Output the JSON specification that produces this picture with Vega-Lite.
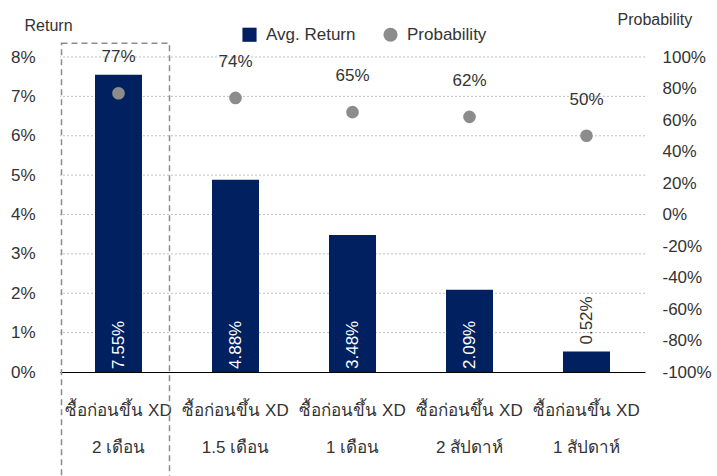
{
  "$schema": "https://vega.github.io/schema/vega-lite/v6.json",
  "width": 585,
  "height": 315,
  "autosize": {"type": "none"},
  "padding": {"left": 60, "top": 57, "right": 72, "bottom": 104},
  "background": "white",
  "config": {
    "font": "Liberation Sans",
    "view": {"stroke": null},
    "axis": {"labelFont": "Liberation Sans", "titleFont": "Liberation Sans", "labelColor": "#333333", "titleColor": "#333333", "labelFontSize": 17, "titleFontSize": 16, "titleFontWeight": "normal", "labelOverlap": false},
    "legend": {"labelFont": "Liberation Sans", "labelFontSize": 17, "labelColor": "#333333"}
  },
  "datasets": {
    "main": [
      {"cat": "ซื้อก่อนขึ้น XD|2 เดือน", "ret": 7.55, "prob": 77},
      {"cat": "ซื้อก่อนขึ้น XD|1.5 เดือน", "ret": 4.88, "prob": 74},
      {"cat": "ซื้อก่อนขึ้น XD|1 เดือน", "ret": 3.48, "prob": 65},
      {"cat": "ซื้อก่อนขึ้น XD|2 สัปดาห์", "ret": 2.09, "prob": 62},
      {"cat": "ซื้อก่อนขึ้น XD|1 สัปดาห์", "ret": 0.52, "prob": 50}
    ],
    "gridvals": [{"g": 1}, {"g": 2}, {"g": 3}, {"g": 4}, {"g": 5}, {"g": 6}, {"g": 7}, {"g": 8}]
  },
  "layer": [
    {
      "layer": [
        {
          "data": {"name": "gridvals"},
          "mark": {"type": "rule", "stroke": "#c0c0c0", "strokeDash": [2, 2], "strokeWidth": 1},
          "encoding": {
            "y": {"field": "g", "type": "quantitative", "scale": {"domain": [0, 8]},
              "axis": {
                "title": "Return", "titleAngle": 0, "titleAlign": "left", "titleBaseline": "middle", "titleX": -36, "titleY": -32,
                "values": [0, 1, 2, 3, 4, 5, 6, 7, 8], "tickCount": 9, "labelExpr": "datum.value + '%'",
                "ticks": false, "domain": false, "labelPadding": 25, "labelOverlap": false, "grid": false
              }}
          }
        },
        {
          "data": {"name": "main"},
          "mark": {"type": "bar", "width": 47},
          "encoding": {
            "x": {"field": "cat", "type": "nominal", "sort": null, "scale": {"paddingInner": 0.6, "paddingOuter": 0.3},
              "axis": {"title": null, "labelAngle": 0, "ticks": false, "domainColor": "#000000", "domainWidth": 1, "labelExpr": "split(datum.label, '|')", "labelLineHeight": 37, "labelPadding": 38, "labelBaseline": "middle", "labelFontSize": 17}},
            "y": {
              "field": "ret", "type": "quantitative", "scale": {"domain": [0, 8]},
              "axis": {
                "title": "Return", "titleAngle": 0, "titleAlign": "left", "titleBaseline": "middle", "titleX": -36, "titleY": -32,
                "values": [0, 1, 2, 3, 4, 5, 6, 7, 8], "tickCount": 9, "labelExpr": "datum.value + '%'",
                "ticks": false, "domain": false, "labelPadding": 25, "labelOverlap": false, "grid": false
              }
            },
            "color": {
              "datum": "Avg. Return",
              "scale": {"domain": ["Avg. Return", "Probability"], "range": ["#002060", "#8c8c8c"]},
              "legend": {"title": null, "orient": "none", "direction": "horizontal", "legendX": 181, "legendY": -31, "symbolSize": 200, "columnPadding": 26, "labelOffset": 8}
            }
          }
        },
        {
          "data": {"name": "main"},
          "transform": [{"filter": "datum.ret > 7"}],
          "mark": {"type": "rect", "width": 108, "xOffset": -3, "fill": null, "fillOpacity": 0, "stroke": "#8c8c8c", "strokeWidth": 1.5, "strokeDash": [6, 4]},
          "encoding": {
            "x": {"field": "cat", "type": "nominal", "sort": null, "scale": {"paddingInner": 0.6, "paddingOuter": 0.3},
              "axis": {"title": null, "labelAngle": 0, "ticks": false, "domainColor": "#000000", "domainWidth": 1, "labelExpr": "split(datum.label, '|')", "labelLineHeight": 37, "labelPadding": 38, "labelBaseline": "middle", "labelFontSize": 17}},
            "y": {"datum": 8.35, "type": "quantitative",
              "axis": {
                "title": "Return", "titleAngle": 0, "titleAlign": "left", "titleBaseline": "middle", "titleX": -36, "titleY": -32,
                "values": [0, 1, 2, 3, 4, 5, 6, 7, 8], "tickCount": 9, "labelExpr": "datum.value + '%'",
                "ticks": false, "domain": false, "labelPadding": 25, "labelOverlap": false, "grid": false
              }},
            "y2": {"datum": -2.9}
          }
        },
        {
          "data": {"name": "main"},
          "transform": [{"filter": "datum.ret >= 1"}, {"calculate": "format(datum.ret, '.2f') + '%'", "as": "rlab"}],
          "mark": {"type": "text", "angle": 270, "align": "left", "baseline": "middle", "dx": 3, "fill": "white", "fontSize": 17},
          "encoding": {
            "x": {"field": "cat", "type": "nominal", "sort": null, "scale": {"paddingInner": 0.6, "paddingOuter": 0.3},
              "axis": {"title": null, "labelAngle": 0, "ticks": false, "domainColor": "#000000", "domainWidth": 1, "labelExpr": "split(datum.label, '|')", "labelLineHeight": 37, "labelPadding": 38, "labelBaseline": "middle", "labelFontSize": 17}},
            "y": {"datum": 0, "type": "quantitative",
              "axis": {
                "title": "Return", "titleAngle": 0, "titleAlign": "left", "titleBaseline": "middle", "titleX": -36, "titleY": -32,
                "values": [0, 1, 2, 3, 4, 5, 6, 7, 8], "tickCount": 9, "labelExpr": "datum.value + '%'",
                "ticks": false, "domain": false, "labelPadding": 25, "labelOverlap": false, "grid": false
              }},
            "text": {"field": "rlab"}
          }
        },
        {
          "data": {"name": "main"},
          "transform": [{"filter": "datum.ret < 1"}, {"calculate": "format(datum.ret, '.2f') + '%'", "as": "rlab"}],
          "mark": {"type": "text", "angle": 270, "align": "left", "baseline": "middle", "dx": 7, "fill": "#333333", "fontSize": 17},
          "encoding": {
            "x": {"field": "cat", "type": "nominal", "sort": null, "scale": {"paddingInner": 0.6, "paddingOuter": 0.3},
              "axis": {"title": null, "labelAngle": 0, "ticks": false, "domainColor": "#000000", "domainWidth": 1, "labelExpr": "split(datum.label, '|')", "labelLineHeight": 37, "labelPadding": 38, "labelBaseline": "middle", "labelFontSize": 17}},
            "y": {"field": "ret", "type": "quantitative",
              "axis": {
                "title": "Return", "titleAngle": 0, "titleAlign": "left", "titleBaseline": "middle", "titleX": -36, "titleY": -32,
                "values": [0, 1, 2, 3, 4, 5, 6, 7, 8], "tickCount": 9, "labelExpr": "datum.value + '%'",
                "ticks": false, "domain": false, "labelPadding": 25, "labelOverlap": false, "grid": false
              }},
            "text": {"field": "rlab"}
          }
        }
      ]
    },
    {
      "layer": [
        {
          "data": {"name": "main"},
          "mark": {"type": "point", "filled": true, "size": 160, "opacity": 1},
          "encoding": {
            "x": {"field": "cat", "type": "nominal", "sort": null, "scale": {"paddingInner": 0.6, "paddingOuter": 0.3},
              "axis": {"title": null, "labelAngle": 0, "ticks": false, "domainColor": "#000000", "domainWidth": 1, "labelExpr": "split(datum.label, '|')", "labelLineHeight": 37, "labelPadding": 38, "labelBaseline": "middle", "labelFontSize": 17}},
            "y": {
              "field": "prob", "type": "quantitative", "scale": {"domain": [-100, 100]},
              "axis": {
                "orient": "right", "title": "Probability", "titleAngle": 0, "titleAlign": "left", "titleBaseline": "middle", "titleX": -28, "titleY": -38,
                "values": [-100, -80, -60, -40, -20, 0, 20, 40, 60, 80, 100], "tickCount": 11, "labelExpr": "datum.value + '%'",
                "ticks": false, "domain": false, "grid": false, "labelPadding": 17, "labelOverlap": false
              }
            },
            "color": {"datum": "Probability"},
            "shape": {"datum": "Probability", "scale": {"domain": ["Avg. Return", "Probability"], "range": ["square", "circle"]}}
          }
        },
        {
          "data": {"name": "main"},
          "transform": [{"calculate": "datum.prob + '%'", "as": "plab"}],
          "mark": {"type": "text", "dy": -36, "baseline": "middle", "fill": "#333333", "fontSize": 17},
          "encoding": {
            "x": {"field": "cat", "type": "nominal", "sort": null, "scale": {"paddingInner": 0.6, "paddingOuter": 0.3},
              "axis": {"title": null, "labelAngle": 0, "ticks": false, "domainColor": "#000000", "domainWidth": 1, "labelExpr": "split(datum.label, '|')", "labelLineHeight": 37, "labelPadding": 38, "labelBaseline": "middle", "labelFontSize": 17}},
            "y": {"field": "prob", "type": "quantitative",
              "axis": {
                "orient": "right", "title": "Probability", "titleAngle": 0, "titleAlign": "left", "titleBaseline": "middle", "titleX": -28, "titleY": -38,
                "values": [-100, -80, -60, -40, -20, 0, 20, 40, 60, 80, 100], "tickCount": 11, "labelExpr": "datum.value + '%'",
                "ticks": false, "domain": false, "grid": false, "labelPadding": 17, "labelOverlap": false
              }},
            "text": {"field": "plab"}
          }
        }
      ]
    }
  ],
  "resolve": {"scale": {"y": "independent"}}
}
